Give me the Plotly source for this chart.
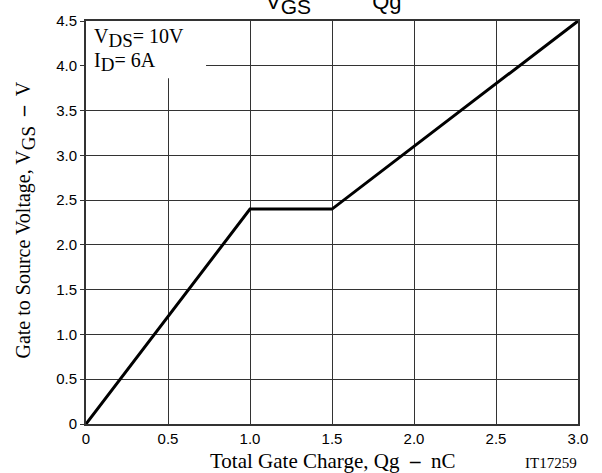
import plotly.graph_objects as go

qg = [0.0, 1.0, 1.5, 3.0]
vgs = [0.0, 2.4, 2.4, 4.5]
x_ticks = [0, 0.5, 1.0, 1.5, 2.0, 2.5, 3.0]
x_labels = ["0", "0.5", "1.0", "1.5", "2.0", "2.5", "3.0"]
y_ticks = [0, 0.5, 1.0, 1.5, 2.0, 2.5, 3.0, 3.5, 4.0, 4.5]
y_labels = ["0", "0.5", "1.0", "1.5", "2.0", "2.5", "3.0", "3.5", "4.0", "4.5"]

W, H = 602, 473
L, R, T, B = 86, 24, 16, 49

fig = go.Figure()
fig.add_trace(go.Scatter(x=qg, y=vgs, mode="lines",
                         line=dict(color="black", width=3), showlegend=False))

sans = "Liberation Sans, Arial, sans-serif"
serif = "Liberation Serif, Times New Roman, serif"

fig.update_layout(
    width=W, height=H,
    margin=dict(l=L, r=R, t=T, b=B),
    paper_bgcolor="white", plot_bgcolor="white",
    xaxis=dict(range=[0, 3.0], tickvals=x_ticks, ticktext=x_labels,
               showgrid=True, gridcolor="#333", gridwidth=1,
               showline=True, linecolor="#333", linewidth=2, mirror=True,
               ticks="", tickfont=dict(family=sans, size=15, color="black"),
               zeroline=False, fixedrange=True),
    yaxis=dict(range=[0, 4.5], tickvals=y_ticks, ticktext=y_labels,
               showgrid=True, gridcolor="#333", gridwidth=1,
               showline=True, linecolor="#333", linewidth=2, mirror=True,
               ticks="outside", ticklen=4, tickcolor="#333",
               tickfont=dict(family=sans, size=15, color="black"),
               zeroline=False, fixedrange=True),
)

# white legend box over grid
fig.add_shape(type="rect", xref="x", yref="y", x0=0, x1=0.732, y0=3.86, y1=4.5,
              fillcolor="white", line=dict(width=0), layer="between")


def sub(t, px):
    return "<sub><span style='font-size:%dpx'>%s</span></sub>" % (px, t)


PW, PH = W - L - R, H - T - B
ann = []
ann.append(dict(text="V" + sub("DS", 19) + "= 10V", xref="paper", yref="paper",
                x=(92 - L) / PW, y=1 - (18 - T) / PH,
                xanchor="left", yanchor="top", showarrow=False,
                font=dict(family=serif, size=20, color="black")))
ann.append(dict(text="I" + sub("D", 19) + "= 6A", xref="paper", yref="paper",
                x=(92 - L) / PW, y=1 - (42 - T) / PH,
                xanchor="left", yanchor="top", showarrow=False,
                font=dict(family=serif, size=20, color="black")))
ann.append(dict(text="Total Gate Charge, Qg  <b>–</b>  nC", xref="paper", yref="paper",
                x=(332 - L) / PW, y=-(461 - (H - B)) / PH,
                xanchor="center", yanchor="middle", showarrow=False,
                font=dict(family=serif, size=21, color="black")))
ann.append(dict(text="IT17259", xref="paper", yref="paper",
                x=(579 - L) / PW, y=-(463 - (H - B)) / PH,
                xanchor="right", yanchor="middle", showarrow=False,
                font=dict(family=serif, size=15, color="black")))
ann.append(dict(text="Gate to Source Voltage, V" + sub("GS", 19) + "  <b>–</b>  V",
                xref="paper", yref="paper",
                x=-(L - 25) / PW, y=1 - (218 - T) / PH, textangle=-90,
                xanchor="center", yanchor="middle", showarrow=False,
                font=dict(family=serif, size=20, color="black")))
ann.append(dict(text="V" + sub("GS", 21) + "          Qg", xref="paper", yref="paper",
                x=(334 - L) / PW, y=1 + (T + 2) / PH,
                xanchor="center", yanchor="middle", showarrow=False,
                font=dict(family=sans, size=22, color="black")))
fig.update_layout(annotations=ann)

fig.write_html("out.html", config={"displayModeBar": False},
               post_script="document.body.style.margin='0px';document.body.style.overflow='hidden';")
